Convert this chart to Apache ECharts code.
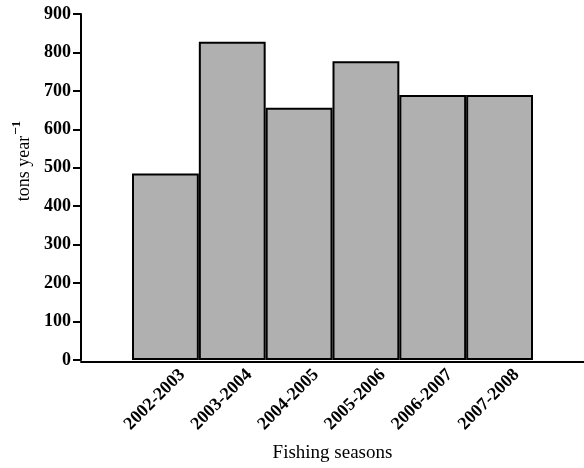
<!DOCTYPE html>
<html><head><meta charset="utf-8">
<script src="https://cdn.jsdelivr.net/npm/echarts@6/dist/echarts.min.js"></script>
<style>html,body{margin:0;padding:0;background:#fff}#c{width:584px;height:468px}</style>
</head><body><div id="c"></div>
<script>
var categories = ['2002-2003','2003-2004','2004-2005','2005-2006','2006-2007','2007-2008'];
var values = [485, 828, 656, 777, 689, 689];
var yTicks = {min: 0, max: 900, interval: 100};

var serif = '"Liberation Serif", "Times New Roman", serif';
var chart = echarts.init(document.getElementById('c'), null, {renderer: 'canvas'});
chart.setOption({
  animation: false,
  grid: [
    {left: 132, right: 51, top: 14, bottom: 106},
    {left: 81, right: 0, top: 14, bottom: 106},
    {left: 149, right: 34, top: 14, bottom: 106}
  ],
  xAxis: [
    {
      type: 'category', gridIndex: 0, data: categories,
      boundaryGap: true,
      axisLine: {show: false},
      axisTick: {show: false},
      axisLabel: {show: false},
      name: 'Fishing seasons', nameLocation: 'middle', nameGap: 84,
      nameTextStyle: {color: '#000', fontFamily: serif, fontSize: 19}
    },
    {
      type: 'value', gridIndex: 1, min: 0, max: 1,
      axisLine: {show: true, lineStyle: {color: '#000', width: 2}},
      axisTick: {show: false}, axisLabel: {show: false}, splitLine: {show: false}
    },
    {
      type: 'category', gridIndex: 2, data: categories,
      boundaryGap: true,
      axisLine: {show: false},
      axisTick: {show: false},
      axisLabel: {rotate: 45, margin: 10, color: '#000', fontFamily: serif, fontWeight: 'bold', fontSize: 18, interval: 0}
    }
  ],
  yAxis: [
    {
      type: 'value', gridIndex: 0, min: yTicks.min, max: yTicks.max, interval: yTicks.interval,
      offset: 51,
      axisLine: {show: true, lineStyle: {color: '#000', width: 2}},
      axisTick: {show: true, length: 8, lineStyle: {color: '#000', width: 2}},
      axisLabel: {margin: 10, color: '#000', fontFamily: serif, fontWeight: 'bold', fontSize: 18},
      splitLine: {show: false},
      name: '{a|tons year}{b|−1}', nameLocation: 'middle', nameGap: 46, nameRotate: 90,
      nameTextStyle: {
        color: '#000', fontFamily: serif, fontSize: 18,
        padding: [0, 0, 0, 52],
        rich: {
          a: {fontFamily: serif, fontSize: 18, color: '#000', verticalAlign: 'bottom'},
          b: {fontFamily: serif, fontSize: 13, color: '#000', fontWeight: 'bold', verticalAlign: 'top', padding: [0, 0, 10, 1]}
        }
      }
    },
    {type: 'value', gridIndex: 1, show: false, min: 0, max: 1},
    {type: 'value', gridIndex: 2, show: false, min: 0, max: 1}
  ],
  series: [{
    type: 'bar', xAxisIndex: 0, yAxisIndex: 0,
    data: values,
    barWidth: '100%', barCategoryGap: '0%',
    itemStyle: {color: '#b0b0b0', borderColor: '#000', borderWidth: 2}
  }]
});
</script></body></html>
